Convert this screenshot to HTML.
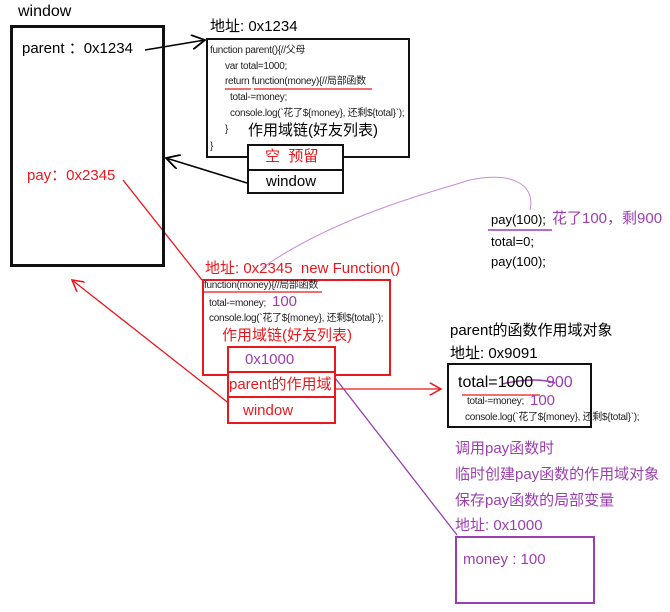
<!DOCTYPE html>
<html><head><meta charset="utf-8"><style>
body{margin:0;width:670px;height:612px;background:#fff;position:relative;overflow:hidden;font-family:"Liberation Sans","Noto Sans CJK SC",sans-serif}
.t{position:absolute;white-space:nowrap;line-height:1}
.b{position:absolute;box-sizing:border-box}
.c{font-size:10px;color:#222;letter-spacing:-0.3px}
.r{color:#e8191e}.p{color:#9b3fb0}
</style></head><body>
<svg width="670" height="612" style="position:absolute;left:0;top:0">
<defs>
<marker id="ak" markerWidth="10" markerHeight="10" refX="9" refY="5" orient="auto"><path d="M0,0 L9,5 L0,10" fill="none" stroke="#000" stroke-width="1.2"/></marker>
<marker id="ar" markerWidth="10" markerHeight="10" refX="9" refY="5" orient="auto"><path d="M0,0 L9,5 L0,10" fill="none" stroke="#e8191e" stroke-width="1.2"/></marker>
</defs>
<line x1="145" y1="50" x2="205" y2="40" stroke="#000" stroke-width="1.5" marker-end="url(#ak)"/>
<line x1="247" y1="183" x2="166" y2="158" stroke="#000" stroke-width="1.5" marker-end="url(#ak)"/>
<line x1="123" y1="180" x2="202" y2="280" stroke="#e8191e" stroke-width="1.3"/>
<line x1="240" y1="412" x2="72" y2="280" stroke="#e8191e" stroke-width="1.3" marker-end="url(#ar)"/>
<line x1="335" y1="389" x2="441" y2="389" stroke="#e8191e" stroke-width="1.3" marker-end="url(#ar)"/>
<line x1="325" y1="365" x2="457" y2="535" stroke="#9b3fb0" stroke-width="1.3"/>
<path d="M262,268 C330,220 420,195 470,180 C520,170 535,190 530,210" fill="none" stroke="#c98bd6" stroke-width="1"/>
<line x1="488" y1="230" x2="552" y2="230" stroke="#9b3fb0" stroke-width="1.5"/>
<line x1="225" y1="89" x2="251" y2="89" stroke="#e8191e" stroke-width="1.3"/>
<line x1="254" y1="89" x2="372" y2="89" stroke="#e8191e" stroke-width="1.3"/>
<line x1="203" y1="292" x2="322" y2="292" stroke="#e8191e" stroke-width="1.3"/>
<line x1="462" y1="395" x2="540" y2="395" stroke="#e8191e" stroke-width="1.3"/>
<path d="M502,384 C520,380 540,378 555,383" fill="none" stroke="#9b3fb0" stroke-width="1.5"/>
</svg>
<div class="t" style="left:18px;top:4px;font-size:16px">window</div>
<div class="b" style="left:10px;top:25px;width:155px;height:242px;border:3px solid #111"></div>
<div class="t" style="left:22px;top:41px;font-size:15px">parent ：0x1234</div>
<div class="t r" style="left:27px;top:168px;font-size:15px">pay：0x2345</div>

<div class="t" style="left:210px;top:19px;font-size:15px">地址: 0x1234</div>
<div class="b" style="left:206px;top:38px;width:204px;height:120px;border:2px solid #111"></div>
<div class="t c" style="left:210px;top:46px">function parent(){//父母</div>
<div class="t c" style="left:225px;top:62px">var total=1000;</div>
<div class="t c" style="left:225px;top:77px">return function(money){//局部函数</div>
<div class="t c" style="left:230px;top:93px">total-=money;</div>
<div class="t c" style="left:230px;top:109px">console.log(`花了${money}, 还剩${total}`);</div>
<div class="t c" style="left:225px;top:125px">}</div>
<div class="t c" style="left:210px;top:142px">}</div>
<div class="t" style="left:248px;top:123px;font-size:15px">作用域链(好友列表)</div>
<div class="b" style="left:247px;top:144px;width:97px;height:50px;border:2px solid #111;background:#fff"></div>
<div class="b" style="left:247px;top:169px;width:97px;height:2px;background:#111"></div>
<div class="t r" style="left:265px;top:149px;font-size:15px">空&nbsp; 预留</div>
<div class="t" style="left:266px;top:174px;font-size:15px">window</div>

<div class="t r" style="left:205px;top:261px;font-size:15px">地址: 0x2345&nbsp; new Function()</div>
<div class="b" style="left:202px;top:279px;width:189px;height:97px;border:2px solid #e8191e"></div>
<div class="t c" style="left:204px;top:281px">function(money){//局部函数</div>
<div class="t c" style="left:209px;top:299px">total-=money;</div>
<div class="t p" style="left:272px;top:294px;font-size:15px">100</div>
<div class="t c" style="left:209px;top:314px">console.log(`花了${money}, 还剩${total}`);</div>
<div class="t r" style="left:222px;top:328px;font-size:15px">作用域链(好友列表)</div>
<div class="b" style="left:227px;top:346px;width:109px;height:78px;border:2px solid #e8191e;background:#fff"></div>
<div class="b" style="left:227px;top:371px;width:109px;height:2px;background:#e8191e"></div>
<div class="b" style="left:227px;top:396px;width:109px;height:2px;background:#e8191e"></div>
<div class="t p" style="left:245px;top:352px;font-size:15px">0x1000</div>
<div class="t r" style="left:229px;top:377px;font-size:15px">parent的作用域</div>
<div class="t r" style="left:243px;top:403px;font-size:15px">window</div>

<div class="t" style="left:491px;top:213px;font-size:13px">pay(100);</div>
<div class="t p" style="left:552px;top:211px;font-size:15px">花了100，剩900</div>
<div class="t" style="left:491px;top:235px;font-size:13px">total=0;</div>
<div class="t" style="left:491px;top:255px;font-size:13px">pay(100);</div>

<div class="t" style="left:450px;top:323px;font-size:15px">parent的函数作用域对象</div>
<div class="t" style="left:450px;top:346px;font-size:15px">地址: 0x9091</div>
<div class="b" style="left:447px;top:363px;width:145px;height:65px;border:2px solid #111"></div>
<div class="t" style="left:458px;top:375px;font-size:16px">total=1000</div>
<div class="t p" style="left:546px;top:375px;font-size:16px">900</div>
<div class="t c" style="left:467px;top:397px">total-=money;</div>
<div class="t p" style="left:530px;top:393px;font-size:15px">100</div>
<div class="t c" style="left:465px;top:413px">console.log(`花了${money}, 还剩${total}`);</div>

<div class="t p" style="left:455px;top:441px;font-size:15px">调用pay函数时</div>
<div class="t p" style="left:455px;top:467px;font-size:15px">临时创建pay函数的作用域对象</div>
<div class="t p" style="left:455px;top:493px;font-size:15px">保存pay函数的局部变量</div>
<div class="t p" style="left:455px;top:518px;font-size:15px">地址: 0x1000</div>
<div class="b" style="left:455px;top:536px;width:140px;height:68px;border:2px solid #9b3fb0"></div>
<div class="t p" style="left:463px;top:552px;font-size:15px">money : 100</div>
</body></html>
